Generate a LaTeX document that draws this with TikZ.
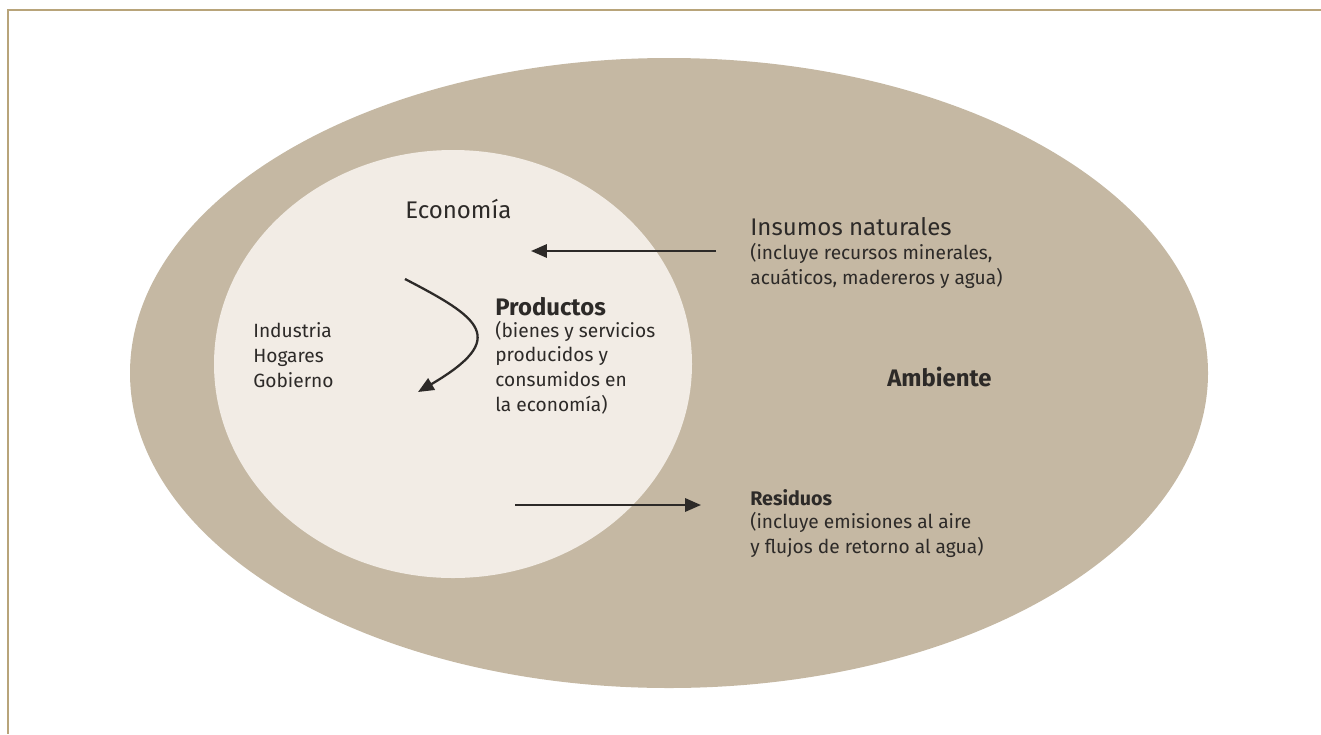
\documentclass[tikz,border=0pt]{standalone}
\usepackage{fontspec}
\setmainfont{Fira Sans}
\usepackage{tikz}
\usetikzlibrary{arrows.meta,calc}
\definecolor{ambcol}{RGB}{197,184,163}
\definecolor{ecocol}{RGB}{242,236,229}
\definecolor{marco}{RGB}{184,164,122}
\definecolor{tinta}{RGB}{45,42,40}
\tikzset{txt/.style={anchor=base west,inner sep=0pt,align=left,text=tinta,
			font=\fontsize{10.9}{14}\selectfont},
	hd/.style={anchor=base west,inner sep=0pt,text=tinta,font=\fontsize{13.7}{16}\selectfont},
	hdb/.style={hd,font=\fontsize{13.6}{16}\selectfont\bfseries},
	flecha/.style={line width=1.3pt,tinta,-{Triangle[length=9pt,width=7.5pt]}}}

\begin{document}
\begin{tikzpicture}[x=0.02cm,y=-0.02cm]
				\useasboundingbox (0,0) rectangle (1321,734);
				\draw[marco,line width=1.1pt] (1321,10) -- (8,10) -- (8,734);
				\fill[ambcol] (669,373) ellipse [x radius=539,y radius=315];
				\fill[ecocol] (453,364) ellipse [x radius=239,y radius=214];
				% economia (txt nodes: base = last line)
				\node[hd] (eco) at (405,218) {Economía};
				\node[txt] (agentes) at (253,387) {Industria\\Hogares\\Gobierno};
				\node[hdb] (prod) at (495,315) {Productos};
				\node[txt] (prodtxt) at (495,411) {(bienes y servicios\\producidos y\\consumidos en\\la economía)};
				% ambiente
				\node[hdb] (amb) at (887,386) {Ambiente};
				\node[hd] (ins) at (750,235) {Insumos naturales};
				\node[txt] (instxt) at (750,284) {(incluye recursos minerales,\\acuáticos, madereros y agua)};
				\node[hdb,font=\fontsize{11.2}{14}\selectfont\bfseries] (res) at (750,505) {Residuos};
				\node[txt] (restxt) at (750,553) {(incluye emisiones al aire\\y flujos de retorno al agua)};
				% flujos
				\coordinate (insA) at (716,251);
				\coordinate (insB) at (531,251);
				\coordinate (resA) at (515,505);
				\coordinate (resB) at (701,505);
				\coordinate (prodA) at (405,279);
				\coordinate (prodB) at (418,392);
				\draw[flecha] (insA) -- (insB);
				\draw[flecha] (resA) -- (resB);
				\draw[flecha] (prodA) .. controls (480,318) and (510,338) .. (prodB);
			\end{tikzpicture}
\end{document}
